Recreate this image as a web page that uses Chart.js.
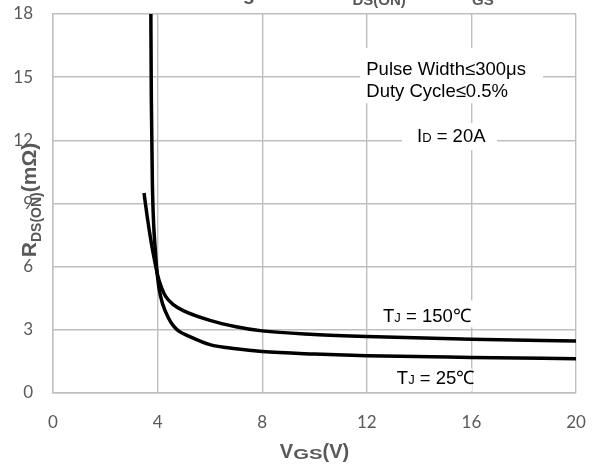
<!DOCTYPE html>
<html>
<head>
<meta charset="utf-8">
<script src="https://cdn.jsdelivr.net/npm/chart.js@4.4.1/dist/chart.umd.min.js"></script>
<style>
  html, body { margin: 0; padding: 0; background: #fff; }
  #wrap { width: 595px; height: 470px; }
</style>
</head>
<body>
<div id="wrap"><canvas id="chart" width="595" height="470"></canvas></div>
<script>
// R_DS(ON) vs V_GS
const vgs25 = [3.74, 3.76, 3.80, 3.85, 3.90, 3.96, 4.05, 4.20, 4.40, 4.60, 4.80, 5.2, 6, 7, 8, 10, 12, 16, 20];
const rds25 = [18.5, 14.0, 10.0, 8.0, 7.0, 6.0, 5.0, 4.2, 3.6, 3.2, 2.95, 2.7, 2.3, 2.1, 1.97, 1.85, 1.77, 1.69, 1.63];

const vgs150 = [3.48, 3.60, 3.75, 3.90, 4.00, 4.15, 4.30, 4.60, 5.0, 6, 7, 8, 10, 12, 16, 20];
const rds150 = [9.5, 8.4, 7.2, 6.2, 5.6, 5.0, 4.6, 4.2, 3.9, 3.45, 3.15, 2.95, 2.78, 2.68, 2.55, 2.47];

const xTicks = [0, 4, 8, 12, 16, 20];
const yTicks = [0, 3, 6, 9, 12, 15, 18];

const GRAY = "#595959";
const GRID = "#bfbfbf";

function toPoints(xs, ys) {
  return xs.map((v, i) => ({ x: v, y: ys[i] }));
}

// draw a run of text pieces [text, font, shift, stretch] one after another
function drawRun(ctx, pieces, x, y) {
  let cx = x;
  pieces.forEach(p => {
    ctx.font = p[1];
    const sx = p[3] || 1;
    ctx.save();
    ctx.translate(cx, y + (p[2] || 0));
    ctx.scale(sx, 1);
    ctx.fillText(p[0], 0, 0);
    ctx.restore();
    cx += ctx.measureText(p[0]).width * sx;
  });
  return cx;
}

function runWidth(ctx, pieces) {
  let w = 0;
  pieces.forEach(p => { ctx.font = p[1]; w += ctx.measureText(p[0]).width * (p[3] || 1); });
  return w;
}

const notes = {
  id: "notes",
  beforeDatasetsDraw(chart) {
    const { ctx, scales: { x, y } } = chart;
    // white patches behind the labels
    const boxes = [
      [11.74, 18.74, 16.38, 13.76],
      [13.35, 16.98, 12.82, 11.54],
      [12.31, 16.06, 4.40, 3.12],
      [12.89, 16.02, 1.17, 0.08]
    ];
    ctx.save();
    ctx.fillStyle = "#fff";
    boxes.forEach(b => {
      const x0 = x.getPixelForValue(b[0]), x1 = x.getPixelForValue(b[1]);
      const y0 = y.getPixelForValue(b[2]), y1 = y.getPixelForValue(b[3]);
      ctx.fillRect(x0, y0, x1 - x0, y1 - y0);
    });
    ctx.restore();
  },
  afterDraw(chart) {
    const { ctx, scales: { x, y } } = chart;
    const big = "18.5px 'Liberation Sans', Arial, sans-serif";
    const small = "13px 'Liberation Sans', Arial, sans-serif";
    ctx.save();
    ctx.fillStyle = "#000";
    ctx.textBaseline = "alphabetic";
    ctx.textAlign = "left";
    ctx.font = big;
    ctx.fillText("Pulse Width\u2264300\u03bcs", x.getPixelForValue(11.98), y.getPixelForValue(15.43) + 6.5);
    ctx.fillText("Duty Cycle\u22640.5%", x.getPixelForValue(11.98), y.getPixelForValue(14.39) + 6.5);
    drawRun(ctx, [["I", big], ["D", small], [" = 20A", big]], x.getPixelForValue(13.92), y.getPixelForValue(12.25) + 6.5);
    drawRun(ctx, [["T", big], ["J", small], [" = 150\u2103", big]], x.getPixelForValue(12.62), y.getPixelForValue(3.69) + 6.5);
    drawRun(ctx, [["T", big], ["J", small], [" = 25\u2103", big]], x.getPixelForValue(13.15), y.getPixelForValue(0.75) + 6.5);

    // axis titles
    const tb = "bold 20px 'Liberation Sans', Arial, sans-serif";
    const ts = "bold 14px 'Liberation Sans', Arial, sans-serif";
    const hs = "bold 15px 'Liberation Sans', Arial, sans-serif";
    ctx.fillStyle = GRAY;
    const xt = [["V", tb], ["GS", ts, 1.5, 1.45], ["(V)", tb]];
    const cx = (chart.chartArea.left + chart.chartArea.right) / 2;
    drawRun(ctx, xt, cx - runWidth(ctx, xt) / 2, 457.5);

    ctx.save();
    ctx.translate(0, 200);
    ctx.rotate(-Math.PI / 2);
    const yb = "bold 21px 'Liberation Sans', Arial, sans-serif";
    const ys = "bold 14px 'Liberation Sans', Arial, sans-serif";
    const yt = [["R", yb], ["DS(ON)", ys, 5], ["(m\u03a9)", yb]];
    drawRun(ctx, yt, -runWidth(ctx, yt) / 2, 36);
    ctx.restore();

    // chart title, mostly above the visible area
    ctx.font = tb;
    ctx.textAlign = "right";
    ctx.fillText("Figure 5. On-Resistance Change of the", 326, 0);
    ctx.fillText("vs. V", 472, 0);
    ctx.textAlign = "left";
    drawRun(ctx, [["R", tb], ["DS(ON)", hs, 5]], 338, 0);
    drawRun(ctx, [["GS", hs, 5]], 472, 0);
    ctx.restore();
  }
};

const lineStyle = {
  showLine: true,
  borderColor: "#000",
  borderWidth: 3.5,
  pointRadius: 0,
  fill: false,
  cubicInterpolationMode: "monotone"
};

new Chart(document.getElementById("chart"), {
  type: "scatter",
  plugins: [notes],
  data: {
    datasets: [
      Object.assign({ label: "TJ = 25\u2103", data: toPoints(vgs25, rds25) }, lineStyle),
      Object.assign({ label: "TJ = 150\u2103", data: toPoints(vgs150, rds150) }, lineStyle)
    ]
  },
  options: {
    responsive: false,
    animation: false,
    layout: { padding: { top: 14, right: 19, left: 0, bottom: 0 } },
    plugins: {
      legend: { display: false },
      tooltip: { enabled: false }
    },
    scales: {
      x: {
        type: "linear",
        min: 0,
        max: 20,
        afterBuildTicks: s => { s.ticks = xTicks.map(v => ({ value: v })); },
        afterFit: s => { s.height = 77; s.paddingLeft = 0; s.paddingRight = 0; },
        ticks: { color: GRAY, padding: 19, font: { family: "Lato", size: 17 } },
        grid: { color: GRID, lineWidth: 1.4, drawTicks: false },
        border: { color: GRID, width: 1.4 }
      },
      y: {
        min: 0,
        max: 18,
        afterBuildTicks: s => { s.ticks = yTicks.map(v => ({ value: v })); },
        afterFit: s => { s.width = 53; s.paddingTop = 0; s.paddingBottom = 0; },
        ticks: { color: GRAY, padding: 20, font: { family: "Lato", size: 17 } },
        grid: { color: GRID, lineWidth: 1.4, drawTicks: false },
        border: { color: GRID, width: 1.4 }
      }
    }
  }
});
</script>
</body>
</html>
